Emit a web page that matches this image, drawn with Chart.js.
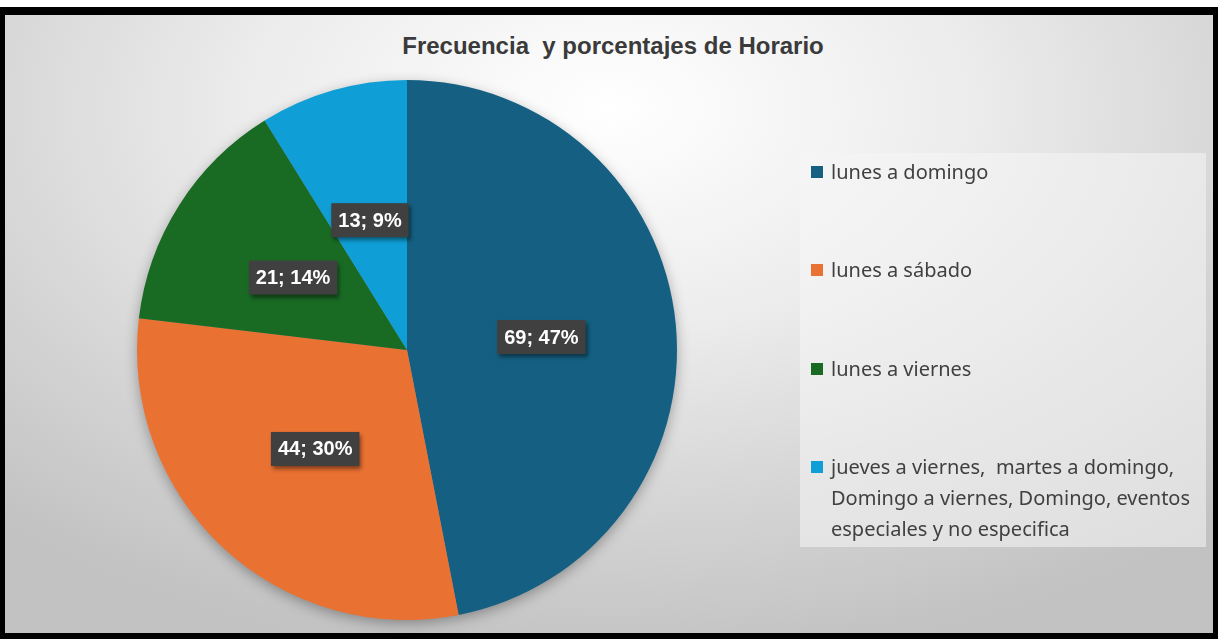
<!DOCTYPE html>
<html>
<head>
<meta charset="utf-8">
<script src="https://cdn.jsdelivr.net/npm/chart.js@4/dist/chart.umd.min.js"></script>
<style>
  html, body { margin: 0; padding: 0; background: #fff; }
  #frame {
    position: absolute; left: 0; top: 7px;
    width: 1208px; height: 618px;
    border-style: solid; border-color: #000;
    border-width: 8px 5px 6px 5px;
    background: radial-gradient(ellipse 75% 90% at 50% 15%, #ffffff 0%, #ececec 40%, #d6d6d6 70%, #c2c2c2 100%);
    overflow: hidden;
  }
  #chartBox { position: absolute; left: 0; top: 0; width: 1208px; height: 618px; }
  #title {
    position: absolute; left: 0; top: 17px; width: 1216px; text-align: center;
    font-family: "Liberation Sans Narrow", "Liberation Sans", sans-serif;
    font-weight: bold; font-size: 24px; color: #3a3a3a;
  }
  #legend {
    position: absolute; left: 795px; top: 138px; width: 406px; height: 394px;
    background: rgba(245, 245, 245, 0.55);
  }
  .item { position: absolute; left: 0; font-family: "Noto Sans", sans-serif; font-size: 20px; color: #404040; line-height: 31px; }
  .swatch { position: absolute; left: 11px; top: 10px; width: 12px; height: 12px; }
  .txt { position: absolute; left: 31px; top: 0; white-space: pre; }
</style>
</head>
<body>
<div id="frame">
  <div id="title">Frecuencia&nbsp; y porcentajes de Horario</div>
  <div id="chartBox"><canvas id="pie"></canvas></div>
  <div id="legend"></div>
</div>
<script>
// data
const labels = [
  'lunes a domingo',
  'lunes a sábado',
  'lunes a viernes',
  'jueves a viernes,  martes a domingo,\nDomingo a viernes, Domingo, eventos\nespeciales y no especifica'
];
const values = [69, 44, 21, 13];
const colors = ['#156082', '#E97132', '#196B24', '#0F9ED5'];
const legendRows = [3, 101, 200, 298];

const total = values.reduce((a, b) => a + b, 0);

// legend built from the same arrays
const legendEl = document.getElementById('legend');
labels.forEach((lab, i) => {
  const row = document.createElement('div');
  row.className = 'item';
  row.style.top = legendRows[i] + 'px';
  row.innerHTML = `<div class="swatch" style="background:${colors[i]}"></div><div class="txt"></div>`;
  row.querySelector('.txt').textContent = lab;
  legendEl.appendChild(row);
});

// soft shadow under the whole pie
const pieShadow = {
  id: 'pieShadow',
  beforeDatasetsDraw(chart) {
    const arc = chart.getDatasetMeta(0).data[0];
    if (!arc) return;
    const ctx = chart.ctx;
    ctx.save();
    ctx.shadowColor = 'rgba(0,0,0,0.35)';
    ctx.shadowBlur = 14;
    ctx.shadowOffsetY = 4;
    ctx.fillStyle = '#888';
    ctx.beginPath();
    ctx.arc(arc.x, arc.y, arc.outerRadius - 1, 0, Math.PI * 2);
    ctx.fill();
    ctx.restore();
  }
};

// "value; pct%" boxes
const valueLabels = {
  id: 'valueLabels',
  afterDatasetsDraw(chart) {
    const ctx = chart.ctx;
    const meta = chart.getDatasetMeta(0);
    ctx.save();
    ctx.font = 'bold 20px "Liberation Sans", sans-serif';
    ctx.textAlign = 'center';
    ctx.textBaseline = 'middle';
    meta.data.forEach((arc, i) => {
      const { x, y } = arc.tooltipPosition();
      const pct = Math.round(values[i] / total * 100);
      const text = `${values[i]}; ${pct}%`;
      const w = ctx.measureText(text).width + 14;
      const h = 34;
      ctx.save();
      ctx.shadowColor = 'rgba(0,0,0,0.45)';
      ctx.shadowBlur = 4;
      ctx.shadowOffsetX = 2;
      ctx.shadowOffsetY = 3;
      ctx.fillStyle = '#404040';
      ctx.fillRect(x - w / 2, y - h / 2, w, h);
      ctx.restore();
      ctx.fillStyle = '#ffffff';
      ctx.fillText(text, x, y + 1);
    });
    ctx.restore();
  }
};

new Chart(document.getElementById('pie'), {
  type: 'pie',
  data: {
    labels: labels,
    datasets: [{
      data: values,
      backgroundColor: colors,
      borderWidth: 0,
      hoverOffset: 0
    }]
  },
  options: {
    responsive: true,
    maintainAspectRatio: false,
    animation: false,
    layout: { padding: { left: 132, right: 536, top: 65, bottom: 13 } },
    plugins: {
      legend: { display: false },
      title: { display: false },
      tooltip: { enabled: false }
    }
  },
  plugins: [pieShadow, valueLabels]
});
</script>
</body>
</html>
